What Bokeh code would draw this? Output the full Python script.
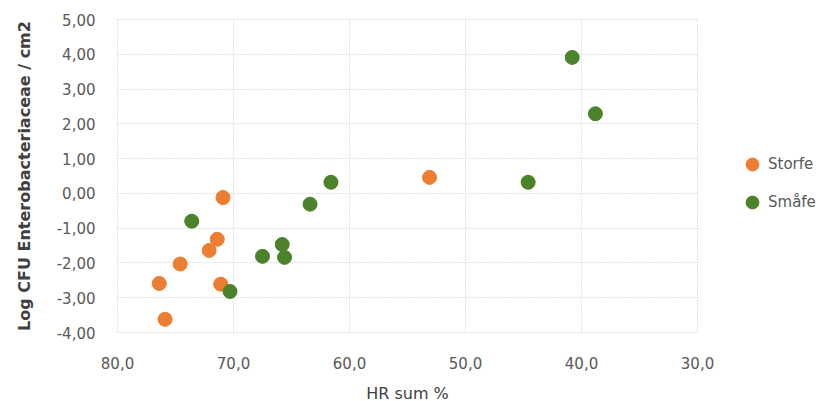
from bokeh.plotting import figure
from bokeh.models import Range1d, Legend, LegendItem, CustomJSTickFormatter, FixedTicker
from bokeh.embed import file_html
from bokeh.resources import INLINE

# Data
storfe_x = [70.9, 71.4, 72.1, 74.6, 76.4, 71.1, 75.9, 53.1]
storfe_y = [-0.12, -1.32, -1.64, -2.03, -2.59, -2.61, -3.62, 0.46]
smafe_x = [73.6, 70.3, 67.5, 65.8, 65.6, 63.4, 61.6, 44.6, 40.8, 38.8]
smafe_y = [-0.80, -2.82, -1.81, -1.47, -1.84, -0.31, 0.32, 0.32, 3.91, 2.29]
x_ticks = [80, 70, 60, 50, 40, 30]
y_ticks = [5, 4, 3, 2, 1, 0, -1, -2, -3, -4]

FONT = "DejaVu Sans"
TXT = "#595959"

p = figure(frame_width=580, frame_height=313, output_backend="svg", toolbar_location=None,
           x_range=Range1d(80, 30), y_range=Range1d(-4, 5),
           min_border_left=117, min_border_right=115, min_border_top=19, min_border_bottom=40)

r1 = p.scatter(storfe_x, storfe_y, size=14, color="#ED7D31", line_color="#ED7D31")
r2 = p.scatter(smafe_x, smafe_y, size=14, color="#4C8229", line_color="#4C8229")

p.xaxis.ticker = FixedTicker(ticks=x_ticks)
p.yaxis.ticker = FixedTicker(ticks=y_ticks)
p.xaxis.formatter = CustomJSTickFormatter(code="return tick.toFixed(1).replace('.', ',');")
p.yaxis.formatter = CustomJSTickFormatter(code="return tick.toFixed(2).replace('.', ',');")

for ax in (p.xaxis, p.yaxis):
    ax.axis_line_color = None
    ax.major_tick_line_color = None
    ax.minor_tick_line_color = None
    ax.major_label_text_font = FONT
    ax.major_label_text_font_size = "15px"
    ax.major_label_text_color = TXT
    ax.axis_label_text_font = FONT
    ax.axis_label_text_font_style = "normal"
    ax.axis_label_text_color = "#404040"

p.xaxis.major_label_standoff = 18
p.yaxis.major_label_standoff = 16
p.xaxis.axis_label = "HR sum %"
p.xaxis.axis_label_text_font_size = "16px"
p.xaxis.axis_label_standoff = 12
p.yaxis.axis_label = "Log CFU Enterobacteriaceae / cm2"
p.yaxis.axis_label_text_font_size = "16px"
p.yaxis.axis_label_text_font_style = "bold"
p.yaxis.axis_label_standoff = 20

p.xgrid.grid_line_color = "#c8c8c8"
p.ygrid.grid_line_color = "#c8c8c8"
p.xgrid.grid_line_dash = "1 2"
p.ygrid.grid_line_dash = "1 2"
p.outline_line_color = "#c8c8c8"
p.outline_line_dash = "1 2"

legend = Legend(items=[LegendItem(label="Storfe", renderers=[r1]),
                       LegendItem(label="Småfe", renderers=[r2])],
                location=(39, 114), padding=0, margin=0, spacing=6,
                label_height=32, glyph_height=32, glyph_width=32,
                label_text_font=FONT, label_text_font_size="15px",
                label_text_color=TXT, border_line_color=None,
                background_fill_alpha=0, label_standoff=-8)
p.add_layout(legend, "right")

open("out.html", "w").write(file_html(p, INLINE))
